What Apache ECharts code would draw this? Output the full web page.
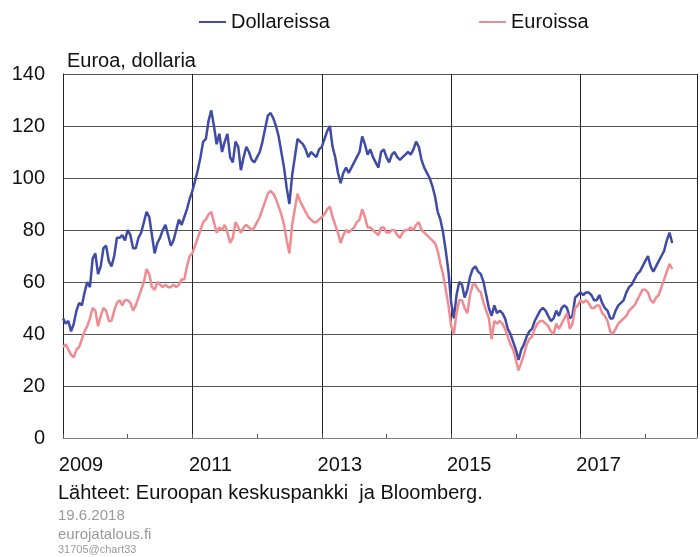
<!DOCTYPE html>
<html>
<head>
<meta charset="utf-8">
<script src="https://cdn.jsdelivr.net/npm/echarts/dist/echarts.min.js"></script>
<style>
html, body { margin: 0; padding: 0; background: #fff; }
#chart { width: 700px; height: 557px; }
</style>
</head>
<body>
<div id="chart"></div>
<script>
// puolikuukausittaiset havainnot, alku 2009
var startYear = 2009;
var perYear = 24;
var seriesNames = ['Dollareissa', 'Euroissa'];
var yTicks = [0, 20, 40, 60, 80, 100, 120, 140];

var usd = [
    46, 44, 45, 41, 44, 49, 52, 51, 56, 60, 58, 69, 71, 63, 66, 73, 74, 68, 66, 70, 77, 77, 78, 76,        // 2009
    80, 78, 73, 73, 77, 79, 83, 87, 85, 78, 71, 75, 77, 80, 82, 78, 74, 76, 80, 84, 82, 85, 88, 92,        // 2010
    95, 99, 103, 108, 114, 115, 122, 126, 120, 113, 117, 110, 114, 117, 108, 106, 114, 112, 103, 108, 112, 110, 107, 106, // 2011
    108, 110, 114, 119, 124, 125, 123, 120, 116, 110, 104, 96, 90, 101, 108, 115, 114, 113, 111, 108, 110, 109, 108, 111, // 2012
    112, 115, 118, 120, 112, 108, 102, 98, 102, 104, 102, 104, 106, 108, 110, 116, 113, 109, 111, 108, 106, 104, 110, 111, // 2013
    108, 106, 109, 110, 108, 107, 108, 109, 110, 109, 111, 114, 112, 107, 104, 102, 100, 97, 93, 87, 84, 79, 72, 64,   // 2014
    52, 46, 55, 60, 59, 54, 57, 62, 65, 66, 64, 63, 60, 55, 50, 47, 51, 48, 49, 48, 46, 42, 40, 37,        // 2015
    34, 30, 34, 36, 39, 41, 42, 45, 47, 49, 50, 49, 47, 45, 46, 49, 47, 50, 51, 50, 46, 47, 54, 55,        // 2016
    56, 55, 56, 56, 55, 53, 53, 55, 52, 50, 49, 46, 46, 49, 51, 52, 53, 56, 58, 59, 61, 63, 64, 66,        // 2017
    68, 70, 66, 64, 66, 68, 70, 72, 76, 79, 75                                                             // 2018
];
var eur = [
    35, 36, 34, 32, 31, 34, 35, 38, 41, 43, 46, 50, 49, 43, 47, 50, 49, 45, 45, 49, 52, 53, 51, 53,        // 2009
    53, 52, 49, 51, 54, 57, 60, 65, 63, 58, 57, 60, 59, 58, 59, 58, 58, 59, 58, 59, 61, 61, 66, 70,        // 2010
    71, 74, 77, 80, 83, 84, 86, 87, 83, 79, 81, 80, 82, 79, 75, 77, 83, 81, 79, 81, 82, 81, 80, 81,        // 2011
    83, 85, 88, 91, 94, 95, 94, 92, 89, 86, 82, 76, 71, 82, 88, 94, 91, 89, 87, 85, 84, 83, 83, 84,        // 2012
    85, 86, 88, 89, 85, 82, 79, 75, 78, 80, 79, 80, 81, 83, 84, 88, 85, 81, 81, 80, 79, 78, 81, 81,        // 2013
    79, 79, 80, 80, 78, 77, 79, 80, 80, 81, 80, 82, 83, 80, 79, 78, 77, 76, 75, 72, 67, 63, 57, 51,        // 2014
    43, 40, 48, 53, 53, 50, 48, 55, 59, 59, 57, 56, 52, 49, 46, 38, 45, 44, 45, 44, 42, 39, 36, 34,        // 2015
    30, 26, 29, 32, 36, 38, 39, 42, 44, 45, 45, 44, 43, 41, 40, 44, 42, 44, 46, 48, 42, 44, 50, 51,        // 2016
    53, 52, 53, 52, 50, 50, 51, 51, 48, 47, 45, 41, 40, 42, 44, 45, 46, 47, 49, 50, 51, 53, 55, 57,        // 2017
    57, 56, 53, 52, 54, 55, 58, 61, 64, 67, 65                                                             // 2018
];

// vuosi desimaalina x-akselille
function withTime(values) {
    return values.map(function (v, i) {
        return [startYear + i / perYear, v];
    });
}

var font = "'Liberation Sans', Arial, sans-serif";
var chart = echarts.init(document.getElementById('chart'));

var option = {
    animation: false,
    textStyle: {fontFamily: font},
    color: ['#3F4BA6', '#F08C91'],
    legend: {
        data: seriesNames,
        icon: 'rect',
        left: 194,
        top: 7,
        itemWidth: 27,
        itemHeight: 2,
        itemGap: 149,
        textStyle: {fontSize: 20, color: '#111', fontFamily: font}
    },
    grid: {left: 63, right: 0, top: 74, bottom: 119},
    xAxis: {
        type: 'value',
        min: 2009,
        max: 2018.8,
        interval: 2,
        axisLine: {show: true, lineStyle: {color: '#808080'}},
        axisTick: {show: true, inside: true, length: 4, lineStyle: {color: '#555'}},
        minorTick: {show: true, splitNumber: 2, length: 4, lineStyle: {color: '#555'}},
        splitLine: {show: true, lineStyle: {color: '#222', width: 1}},
        axisLabel: {
            formatter: function (v) { return v % 2 === 1 ? String(v) : ''; },
            fontSize: 20,
            color: '#111',
            margin: 17,
            padding: [0, 0, 0, 36],
            fontFamily: font
        }
    },
    yAxis: {
        type: 'value',
        min: yTicks[0],
        max: yTicks[yTicks.length - 1],
        interval: 20,
        name: 'Euroa, dollaria',
        nameLocation: 'end',
        nameGap: 3,
        nameTextStyle: {align: 'left', verticalAlign: 'bottom', fontSize: 20, color: '#111', padding: [0, 0, 0, 4], fontFamily: font},
        axisLine: {show: true, lineStyle: {color: '#222'}},
        axisTick: {show: false},
        axisLabel: {fontSize: 20, color: '#111', margin: 18, fontFamily: font},
        splitLine: {lineStyle: {color: '#555'}}
    },
    series: [
        {
            name: seriesNames[0],
            type: 'line',
            symbol: 'none',
            lineStyle: {width: 2.5},
            data: withTime(usd)
        },
        {
            name: seriesNames[1],
            type: 'line',
            symbol: 'none',
            lineStyle: {width: 2.5},
            data: withTime(eur)
        }
    ],
    graphic: [
        {type: 'text', left: 58, top: 483, style: {text: 'Lähteet: Euroopan keskuspankki  ja Bloomberg.', font: '20px ' + font, fill: '#111'}},
        {type: 'text', left: 58, top: 508, style: {text: '19.6.2018', font: '15px ' + font, fill: '#999'}},
        {type: 'text', left: 58, top: 527, style: {text: 'eurojatalous.fi', font: '15px ' + font, fill: '#999'}},
        {type: 'text', left: 58, top: 544, style: {text: '31705@chart33', font: '11px ' + font, fill: '#999'}}
    ]
};
chart.setOption(option);
</script>
</body>
</html>
